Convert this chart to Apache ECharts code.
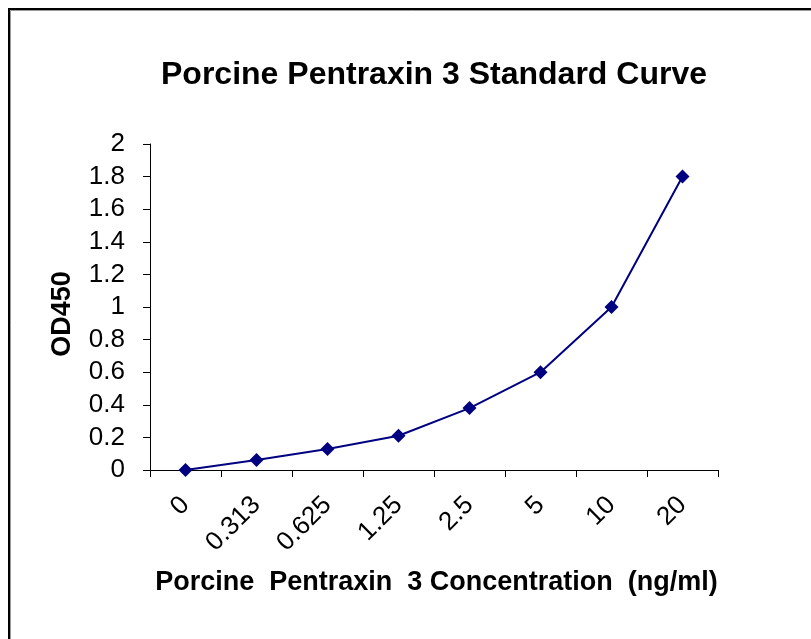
<!DOCTYPE html>
<html>
<head>
<meta charset="utf-8">
<script src="https://cdn.jsdelivr.net/npm/echarts@6/dist/echarts.min.js"></script>
<style>
html,body{margin:0;padding:0;background:#fff;}
#chart{width:811px;height:639px;}
</style>
</head>
<body>
<div id="chart"></div>
<script>
const categories = ['0', '0.313', '0.625', '1.25', '2.5', '5', '10', '20'];
const odValues = [0, 0.061, 0.129, 0.21, 0.38, 0.60, 1.0, 1.80];
const yTicks = { min: 0, max: 2, interval: 0.2 };

const chart = echarts.init(document.getElementById('chart'));
const font = '"Liberation Sans", Arial, Helvetica, sans-serif';
chart.setOption({
  backgroundColor: '#fff',
  animation: false,
  title: {
    text: 'Porcine Pentraxin 3 Standard Curve',
    left: 429,
    textAlign: 'center',
    top: 54,
    textStyle: { fontFamily: font, fontWeight: 'bold', fontSize: 32, color: '#000' }
  },
  graphic: [
    { type: 'rect', shape: { x: 9, y: 9, width: 820, height: 650 }, style: { fill: 'none', stroke: '#000', lineWidth: 2 } },
    { type: 'rect', shape: { x: 10.5, y: 10.5, width: 820, height: 650 }, style: { fill: 'none', stroke: '#999', lineWidth: 1 } },
    { type: 'text', x: 63, y: 314, rotation: Math.PI / 2,
      style: { text: 'OD450', fontFamily: font, fontWeight: 'bold', fontSize: 27, fill: '#000', align: 'center', verticalAlign: 'middle' } }
  ],
  grid: { left: 150, right: 93, top: 144, bottom: 169, containLabel: false },
  xAxis: {
    type: 'category',
    data: categories,
    boundaryGap: true,
    name: 'Porcine  Pentraxin  3 Concentration  (ng/ml)',
    nameLocation: 'middle',
    nameGap: 99,
    nameTextStyle: { fontFamily: font, fontWeight: 'bold', fontSize: 27, color: '#000', padding: [0, 0, 0, 5] },
    axisLine: { lineStyle: { color: '#000', width: 1 } },
    axisTick: { show: true, interval: 0, length: 7, alignWithLabel: false, lineStyle: { color: '#000' } },
    axisLabel: { interval: 0, rotate: 45, margin: 31, fontFamily: font, fontSize: 26, color: '#000' },
    splitLine: { show: false }
  },
  yAxis: {
    type: 'value',
    min: yTicks.min, max: yTicks.max, interval: yTicks.interval,
    axisLine: { show: true, lineStyle: { color: '#000', width: 1 } },
    axisTick: { show: true, length: 7, lineStyle: { color: '#000' } },
    axisLabel: { margin: 25, fontFamily: font, fontSize: 26, color: '#000' },
    splitLine: { show: false }
  },
  series: [{
    type: 'line',
    data: odValues,
    symbol: 'diamond',
    symbolSize: 14,
    lineStyle: { color: '#000080', width: 2 },
    itemStyle: { color: '#000080' }
  }]
});
</script>
</body>
</html>
